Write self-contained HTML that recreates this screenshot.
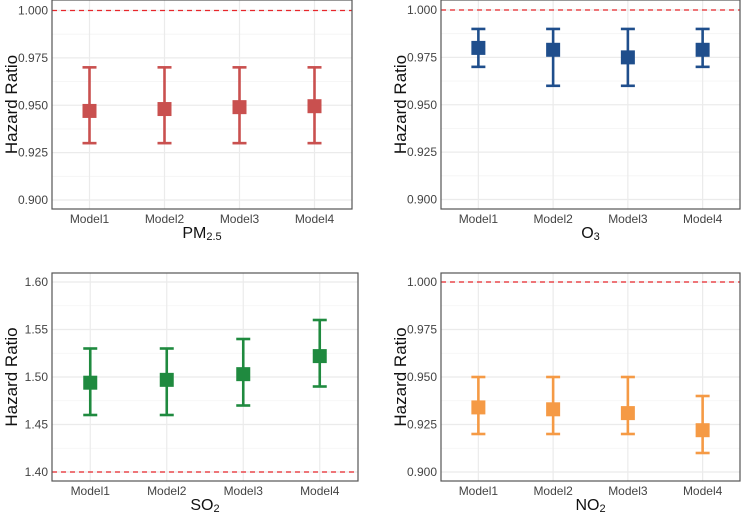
<!DOCTYPE html>
<html><head><meta charset="utf-8"><style>
body{margin:0;background:#fff;width:742px;height:515px;overflow:hidden}
svg text{font-family:"Liberation Sans",Arial,sans-serif}
</style></head><body>
<svg id="c" width="742" height="515"></svg>
<script>
const categories=["Model1","Model2","Model3","Model4"];
const pmEst=[0.947,0.948,0.949,0.9495], pmLo=[0.930,0.930,0.930,0.930], pmHi=[0.970,0.970,0.970,0.970];
const o3Est=[0.980,0.979,0.975,0.979], o3Lo=[0.970,0.960,0.960,0.970], o3Hi=[0.990,0.990,0.990,0.990];
const so2Est=[1.494,1.497,1.503,1.522], so2Lo=[1.46,1.46,1.47,1.49], so2Hi=[1.53,1.53,1.54,1.56];
const no2Est=[0.934,0.933,0.931,0.922], no2Lo=[0.920,0.920,0.920,0.910], no2Hi=[0.950,0.950,0.950,0.940];
const hrTicks=[0.900,0.925,0.950,0.975,1.000];
const so2Ticks=[1.40,1.45,1.50,1.55,1.60];
const NS="http://www.w3.org/2000/svg";
const svg=document.getElementById('c');
function mk(t,a,p){const e=document.createElementNS(NS,t);for(const k in a)e.setAttribute(k,a[k]);(p||svg).appendChild(e);return e;}
function panel(o){
  const g=mk('g',{});
  
  
  const t0=o.ticks[0],t1=o.ticks[o.ticks.length-1];
  const y=v=>o.yLo+(v-t0)/(t1-t0)*(o.yHi-o.yLo);
  const x=i=>o.x0+(o.x1-o.x0)*(i+0.5)/categories.length;
  for(let i=0;i<o.ticks.length;i++){
    mk('line',{x1:o.x0,x2:o.x1,y1:y(o.ticks[i]),y2:y(o.ticks[i]),stroke:'#ebebeb','stroke-width':1.2},g);
    if(i<o.ticks.length-1){const m=(o.ticks[i]+o.ticks[i+1])/2;mk('line',{x1:o.x0,x2:o.x1,y1:y(m),y2:y(m),stroke:'#f4f4f4','stroke-width':0.8},g);}
    const tl=mk('text',{x:o.x0-4,y:y(o.ticks[i])+4,'text-anchor':'end','font-size':12,fill:'#444'},g);
    tl.textContent=o.ticks[i].toFixed(o.dec);
    
    
  }
  categories.forEach((c,i)=>{
    mk('line',{x1:x(i),x2:x(i),y1:o.top,y2:o.bot,stroke:'#ebebeb','stroke-width':1.2},g);
    const xl=mk('text',{x:x(i),y:o.bot+14,'text-anchor':'middle','font-size':12,fill:'#444'},g);
    xl.textContent=c;
    
    
  });
  const rl=mk('line',{x1:o.x0,x2:o.x1,y1:y(o.ref),y2:y(o.ref),stroke:'#e8262b','stroke-width':1.2,'stroke-dasharray':'5,4'},g);
  
  
  categories.forEach((c,i)=>{
    const eb=mk('g',{stroke:o.color,'stroke-width':2.6,fill:'none'},g);
    
    
    mk('line',{x1:x(i),x2:x(i),y1:y(o.lo[i]),y2:y(o.hi[i])},eb);
    mk('line',{x1:x(i)-7,x2:x(i)+7,y1:y(o.lo[i]),y2:y(o.lo[i])},eb);
    mk('line',{x1:x(i)-7,x2:x(i)+7,y1:y(o.hi[i]),y2:y(o.hi[i])},eb);
    const p=mk('rect',{x:x(i)-7,y:y(o.est[i])-7,width:14,height:14,fill:o.color},g);
    
    
  });
  mk('rect',{x:o.x0,y:o.top,width:o.x1-o.x0,height:o.bot-o.top,fill:'none',stroke:'#555','stroke-width':1.2},g);
  const yt=mk('text',{transform:`translate(${o.x0-35},${(o.top+o.bot)/2}) rotate(-90)`,'text-anchor':'middle','font-size':17,fill:'#111'},g);
  yt.textContent='Hazard Ratio';
  
  
  const xt=mk('text',{x:(o.x0+o.x1)/2,y:o.bot+29,'text-anchor':'middle','font-size':16,fill:'#111'},g);
  xt.innerHTML=o.title;
  
  
}
panel({name:'pm25',x0:52,x1:352,top:0,bot:209,yLo:200,yHi:10.5,ticks:hrTicks,dec:3,ref:1.0,color:'#c9504f',est:pmEst,lo:pmLo,hi:pmHi,title:'PM<tspan font-size="11" dy="2">2.5</tspan>'});
panel({name:'o3',x0:441,x1:740,top:0,bot:209,yLo:199.5,yHi:10,ticks:hrTicks,dec:3,ref:1.0,color:'#1f4e8c',est:o3Est,lo:o3Lo,hi:o3Hi,title:'O<tspan font-size="11" dy="2">3</tspan>'});
panel({name:'so2',x0:52,x1:358,top:273,bot:481,yLo:472,yHi:282,ticks:so2Ticks,dec:2,ref:1.40,color:'#1f8a3f',est:so2Est,lo:so2Lo,hi:so2Hi,title:'SO<tspan font-size="11" dy="2">2</tspan>'});
panel({name:'no2',x0:441,x1:740,top:273,bot:481,yLo:472,yHi:282,ticks:hrTicks,dec:3,ref:1.0,color:'#f59a45',est:no2Est,lo:no2Lo,hi:no2Hi,title:'NO<tspan font-size="11" dy="2">2</tspan>'});
</script>
</body></html>
